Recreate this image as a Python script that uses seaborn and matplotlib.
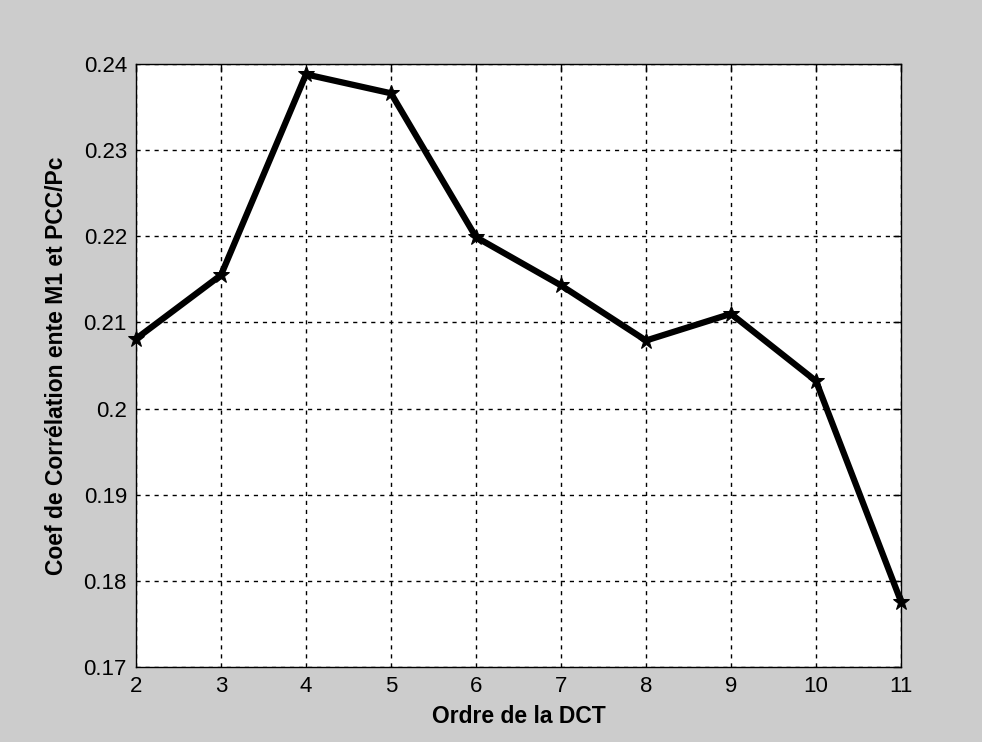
import matplotlib
matplotlib.use("Agg")
import matplotlib.pyplot as plt
import seaborn as sns
import pandas as pd

ordre = [2, 3, 4, 5, 6, 7, 8, 9, 10, 11]
coef = [0.2081, 0.2155, 0.2388, 0.2366, 0.2199, 0.2143, 0.2079, 0.2110, 0.2032, 0.1776]
yticks = [0.17, 0.18, 0.19, 0.2, 0.21, 0.22, 0.23, 0.24]
ytick_labels = ["0.17", "0.18", "0.19", "0.2", "0.21", "0.22", "0.23", "0.24"]

sns.set_theme(style="white")
plt.rcParams['font.family'] = ['Liberation Sans', 'DejaVu Sans']

df = pd.DataFrame({"ordre": ordre, "coef": coef})

fig = plt.figure(figsize=(9.82, 7.42), dpi=100, facecolor="#cccccc")
ax = fig.add_axes([136/982, 75/742, 765/982, 603/742])
ax.set_facecolor("white")

sns.lineplot(data=df, x="ordre", y="coef", ax=ax, color="black", linewidth=4.5,
             marker="*", markersize=12, markeredgecolor="black", markerfacecolor="black",
             clip_on=False, zorder=5)

ax.set_xlim(2, 11)
ax.set_ylim(0.17, 0.24)
ax.set_xticks(ordre)
ax.set_xticklabels([str(v) for v in ordre])
ax.set_yticks(yticks)
ax.set_yticklabels(ytick_labels)
ax.grid(True, color="black", linestyle=(0, (3, 3.5)), linewidth=1.0)
ax.tick_params(direction="in", length=6, width=1, top=True, right=True,
               labelsize=16, colors="black", pad=6.5)
for s in ax.spines.values():
    s.set_color("black")
    s.set_linewidth(1)
    s.set_visible(True)

ax.set_xlabel("Ordre de la DCT", fontsize=16.5, fontweight="bold", color="black", labelpad=6)
ax.set_ylabel("Coef de Corrélation ente M1 et PCC/Pc", fontsize=16.5, fontweight="bold",
              color="black", labelpad=11)

fig.savefig("out.png", dpi=100, facecolor=fig.get_facecolor())
